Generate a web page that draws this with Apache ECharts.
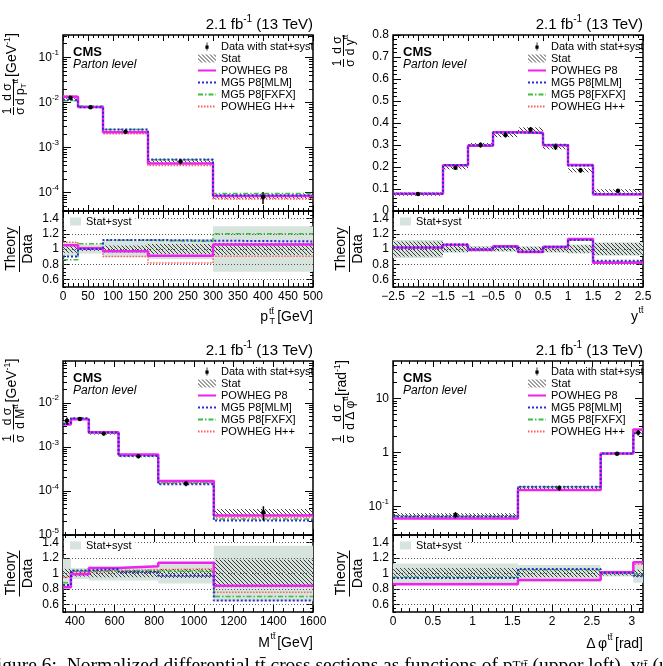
<!DOCTYPE html>
<html>
<head>
<meta charset="utf-8">
<script src="https://cdn.jsdelivr.net/npm/echarts@6.0.0/dist/echarts.min.js"></script>
<style>html,body{margin:0;padding:0;background:#fff;overflow:hidden}#chart{width:663px;height:666px}</style>
</head>
<body>
<div id="chart"></div>
<script>
// ================= DATA =================
// --- pT(tt) panel ---
const ptEdges = [0, 30, 80, 170, 300, 500];
const ptData = [0.0127, 0.0078, 0.00225, 0.00049, 0.000080];
const ptStat = [0.05, 0.025, 0.045, 0.065, 0.08];
const ptTotal = [0.09, 0.06, 0.11, 0.13, 0.30];
const ptRatioP8 = [1.05, 1.01, 0.97, 0.91, 1.06];
const ptRatioMLM = [0.90, 1.00, 1.12, 1.11, 1.10];
const ptRatioFXFX = [0.86, 1.07, 1.115, 1.10, 1.20];
const ptRatioHpp = [1.09, 1.02, 0.90, 0.815, 0.905];
// --- y(tt) panel ---
const yEdges = [-2.5, -1.5, -1, -0.5, 0, 0.5, 1, 1.5, 2.5];
const yData = [0.077, 0.197, 0.300, 0.346, 0.369, 0.292, 0.185, 0.092];
const yStat = [0.10, 0.04, 0.03, 0.03, 0.03, 0.04, 0.05, 0.08];
const yTotal = [0.12, 0.05, 0.04, 0.035, 0.035, 0.05, 0.06, 0.09];
const yRatioP8 = [1.02, 1.055, 0.99, 1.035, 0.96, 1.025, 1.13, 0.82];
const yRatioMLM = [1.02, 1.06, 0.995, 1.03, 0.965, 1.03, 1.12, 0.845];
const yRatioFXFX = [1.02, 1.05, 0.99, 1.03, 0.965, 1.025, 1.12, 0.83];
const yRatioHpp = [1.015, 1.05, 0.995, 1.03, 0.97, 1.02, 1.12, 0.83];
// --- M(tt) panel ---
const mEdges = [340, 380, 470, 620, 820, 1100, 1600];
const mData = [0.0039, 0.0043, 0.0020, 0.00061, 0.000147, 0.000033];
const mStat = [0.06, 0.04, 0.05, 0.05, 0.06, 0.18];
const mTotal = [0.19, 0.07, 0.09, 0.09, 0.13, 0.36];
const mRatioP8 = [0.82, 0.99, 1.07, 1.095, 1.14, 0.84];
const mRatioMLM = [0.85, 1.04, 1.06, 1.02, 0.97, 0.65];
const mRatioFXFX = [0.88, 1.03, 1.04, 1.03, 1.03, 0.70];
const mRatioHpp = [0.95, 1.02, 1.03, 1.05, 1.06, 0.755];
// --- delta phi(tt) panel ---
const dpEdges = [0, 1.57, 2.61, 3.02, 3.1416];
const dpData = [0.0703, 0.221, 0.945, 2.33];
const dpStat = [0.07, 0.05, 0.025, 0.05];
const dpTotal = [0.13, 0.11, 0.04, 0.12];
const dpRatioP8 = [0.86, 0.915, 1.015, 1.145];
const dpRatioMLM = [0.94, 1.06, 1.01, 0.97];
const dpRatioFXFX = [0.95, 1.05, 1.00, 0.98];
const dpRatioHpp = [0.87, 0.92, 1.01, 1.12];

// --- axis ticks / ranges ---
const ptTicks = [0, 50, 100, 150, 200, 250, 300, 350, 400, 450, 500];
const yTicks = [-2.5, -2, -1.5, -1, -0.5, 0, 0.5, 1, 1.5, 2, 2.5];
const mTicks = [400, 600, 800, 1000, 1200, 1400, 1600];
const dpTicks = [0, 0.5, 1, 1.5, 2, 2.5, 3];
const ratioTicks = [0.6, 0.8, 1, 1.2, 1.4];
const ptMainTicks = [1e-4, 1e-3, 1e-2, 1e-1];
const yMainTicks = [0, 0.1, 0.2, 0.3, 0.4, 0.5, 0.6, 0.7, 0.8];
const mMainTicks = [1e-5, 1e-4, 1e-3, 1e-2];
const dpMainTicks = [0.1, 1, 10];
const ptMainRange = [3.93e-5, 0.312];
const yMainRange = [0, 0.8];
const mMainRange = [1e-5, 0.0887];
const dpMainRange = [0.030, 48.8];
const ratioRange = [0.5, 1.5];

// ================= helpers =================
const FONT = '"Liberation Sans", Arial, Helvetica, sans-serif';
const SERIF = '"Liberation Serif", "Times New Roman", serif';
function range(a, b, step) { const out = []; const n = Math.round((b - a) / step); for (let i = 0; i <= n; i++) out.push(+(a + i * step).toFixed(6)); return out; }
function logMinors(min, max) { const out = []; for (let e = Math.floor(Math.log10(min)); e <= Math.ceil(Math.log10(max)); e++) for (let k = 2; k <= 9; k++) { const v = k * Math.pow(10, e); if (v >= min && v <= max) out.push(v); } return out; }
const logFmt = v => { const e = Math.round(Math.log10(v)); return '{b|10}{s|' + (e < 0 ? '-' : '') + Math.abs(e) + '}'; };
const dpFmt = v => { const e = Math.round(Math.log10(v)); if (e === 0) return '{b|1}'; if (e === 1) return '{b|10}'; return logFmt(v); };
const numFmt = v => '{b|' + (v < 0 ? '\u2212' + Math.abs(v) : String(v)) + '}';
const LABEL_RICH = {
  b: { fontSize: 12, color: '#000', fontFamily: FONT },
  s: { fontSize: 8, color: '#000', fontFamily: FONT, padding: [0, 0, 9, 0] }
};

function makeHatch() {
  const s = 4, c = document.createElement('canvas'); c.width = s; c.height = s;
  const g = c.getContext('2d'); g.strokeStyle = '#3a3a3a'; g.lineWidth = 1;
  g.beginPath(); g.moveTo(0, 0); g.lineTo(s, s); g.moveTo(-1, s - 1); g.lineTo(1, s + 1); g.moveTo(s - 1, -1); g.lineTo(s + 1, 1); g.stroke();
  return c;
}
const HATCH = { image: makeHatch(), repeat: 'repeat' };
const BAND = '#d6e4dd';

const MODELS = [
  { name: 'POWHEG P8', color: '#ee22ee', width: 2.5, type: 'solid', z: 6 },
  { name: 'MG5 P8[MLM]', color: '#2b2bd6', width: 2, type: [2, 2], z: 7 },
  { name: 'MG5 P8[FXFX]', color: '#3fbf3f', width: 1.5, type: [5, 2, 1.5, 2], z: 5 },
  { name: 'POWHEG H++', color: '#ff5a5a', width: 1.5, type: [1.5, 1.5], z: 4 }
];

const grids = [], xAxes = [], yAxes = [], series = [];

function mkAxis(spec, gi, pos, vals, len, withLabel) {
  const a = {
    type: spec.type || 'value', gridIndex: gi, position: pos, min: spec.min, max: spec.max,
    axisLine: { show: false, onZero: false }, splitLine: { show: false }, splitArea: { show: false },
    axisTick: { show: true, inside: true, length: len, customValues: vals, lineStyle: { color: '#000', width: 1 } },
    axisLabel: withLabel ? { show: true, customValues: vals, formatter: spec.fmt, rich: LABEL_RICH, margin: 4, color: '#000', fontFamily: FONT, fontSize: 12, hideOverlap: false, showMinLabel: true, showMaxLabel: true } : { show: false },
    axisPointer: { show: false }, silent: true
  };
  if (spec.type === 'log') a.logBase = 10;
  return a;
}
function addGrid(rect, xs, ys, xLabels, xlen, ylen) {
  const gi = grids.length;
  grids.push({ left: rect[0], top: rect[1], width: rect[2], height: rect[3], show: true, borderColor: '#000', borderWidth: 1.5, backgroundColor: 'rgba(0,0,0,0)' });
  const xi = xAxes.length, yi = yAxes.length;
  xAxes.push(mkAxis(xs, gi, 'bottom', xs.majors, xlen[0], xLabels));
  xAxes.push(mkAxis(xs, gi, 'bottom', xs.minors, xlen[1], false));
  xAxes.push(mkAxis(xs, gi, 'top', xs.majors, xlen[0], false));
  xAxes.push(mkAxis(xs, gi, 'top', xs.minors, xlen[1], false));
  yAxes.push(mkAxis(ys, gi, 'left', ys.majors, ylen[0], true));
  yAxes.push(mkAxis(ys, gi, 'left', ys.minors, ylen[1], false));
  yAxes.push(mkAxis(ys, gi, 'right', ys.majors, ylen[0], false));
  yAxes.push(mkAxis(ys, gi, 'right', ys.minors, ylen[1], false));
  return { xi, yi };
}
function bandSeries(name, edges, center, rel, fill, ax, z) {
  return {
    type: 'custom', name, xAxisIndex: ax.xi, yAxisIndex: ax.yi, z, silent: true,
    itemStyle: { color: fill },
    encode: { x: [0, 1], y: [2, 3] },
    data: center.map((c, i) => [edges[i], edges[i + 1], c * (1 - rel[i]), c * (1 + rel[i])]),
    renderItem(params, api) {
      const p1 = api.coord([api.value(0), api.value(3)]);
      const p2 = api.coord([api.value(1), api.value(2)]);
      return { type: 'rect', shape: { x: p1[0], y: p1[1], width: p2[0] - p1[0], height: p2[1] - p1[1] }, style: { fill } };
    }
  };
}
function stepLine(md, edges, vals, ax) {
  const pts = vals.map((v, i) => [edges[i], v]);
  pts.push([edges[edges.length - 1], vals[vals.length - 1]]);
  return {
    type: 'line', name: md.name, xAxisIndex: ax.xi, yAxisIndex: ax.yi, z: md.z, silent: true,
    step: 'end', symbol: 'none', data: pts,
    lineStyle: { color: md.color, width: md.width, type: md.type }, itemStyle: { color: md.color }
  };
}
function dataSeries(edges, vals, tot, ax) {
  return {
    type: 'custom', name: 'Data with stat+syst', xAxisIndex: ax.xi, yAxisIndex: ax.yi, z: 10, silent: true,
    itemStyle: { color: '#000' },
    encode: { x: 0, y: [1, 2, 3] },
    data: vals.map((v, i) => [(edges[i] + edges[i + 1]) / 2, v, v * (1 - tot[i]), v * (1 + tot[i])]),
    renderItem(params, api) {
      const c = api.coord([api.value(0), api.value(1)]);
      const lo = api.coord([api.value(0), api.value(2)]);
      const hi = api.coord([api.value(0), api.value(3)]);
      return { type: 'group', children: [
        { type: 'line', shape: { x1: c[0], y1: lo[1], x2: c[0], y2: hi[1] }, style: { stroke: '#000', lineWidth: 1.5 } },
        { type: 'circle', shape: { cx: c[0], cy: c[1], r: 2.2 }, style: { fill: '#000' } }
      ] };
    }
  };
}

const panels = [
  { dx: 0, dy: 0, main: [63, 35, 250, 176], ratio: [63, 211, 250, 76], edges: ptEdges, data: ptData, stat: ptStat, tot: ptTotal,
    ratios: [ptRatioP8, ptRatioMLM, ptRatioFXFX, ptRatioHpp],
    x: { min: 0, max: 500, majors: ptTicks, minors: range(0, 500, 10), fmt: numFmt },
    ymain: { type: 'log', min: ptMainRange[0], max: ptMainRange[1], majors: ptMainTicks, minors: logMinors(ptMainRange[0], ptMainRange[1]), fmt: logFmt } },
  { dx: 330, dy: 0, main: [393, 35, 250, 176], ratio: [393, 211, 250, 76], edges: yEdges, data: yData, stat: yStat, tot: yTotal,
    ratios: [yRatioP8, yRatioMLM, yRatioFXFX, yRatioHpp],
    x: { min: -2.5, max: 2.5, majors: yTicks, minors: range(-2.5, 2.5, 0.1), fmt: numFmt },
    ymain: { type: 'value', min: yMainRange[0], max: yMainRange[1], majors: yMainTicks, minors: range(0, 0.8, 0.02), fmt: numFmt } },
  { dx: 0, dy: 326, main: [63, 361, 250, 174], ratio: [63, 535, 250, 77], edges: mEdges, data: mData, stat: mStat, tot: mTotal,
    ratios: [mRatioP8, mRatioMLM, mRatioFXFX, mRatioHpp],
    x: { min: 340, max: 1600, majors: mTicks, minors: range(350, 1600, 50), fmt: numFmt },
    ymain: { type: 'log', min: mMainRange[0], max: mMainRange[1], majors: mMainTicks, minors: logMinors(mMainRange[0], mMainRange[1]), fmt: logFmt } },
  { dx: 330, dy: 326, main: [393, 361, 250, 174], ratio: [393, 535, 250, 77], edges: dpEdges, data: dpData, stat: dpStat, tot: dpTotal,
    ratios: [dpRatioP8, dpRatioMLM, dpRatioFXFX, dpRatioHpp],
    x: { min: 0, max: Math.PI, majors: dpTicks, minors: range(0, 3.1, 0.1), fmt: numFmt },
    ymain: { type: 'log', min: dpMainRange[0], max: dpMainRange[1], majors: dpMainTicks, minors: logMinors(dpMainRange[0], dpMainRange[1]), fmt: dpFmt } }
];
const yRatioSpec = { type: 'value', min: ratioRange[0], max: ratioRange[1], majors: ratioTicks, minors: range(0.5, 1.5, 0.05), fmt: numFmt };

const legends = [];
const dataIcon = 'path://M4.4,0h1.2v12h-1.2z M2.6,4.6h4.8v4.8h-4.8z';

panels.forEach(P => {
  const m = addGrid(P.main, P.x, P.ymain, false, [6, 3], [8, 4]);
  const r = addGrid(P.ratio, P.x, yRatioSpec, true, [7, 4], [6, 3]);
  const ones = P.data.map(() => 1);
  // ratio pad
  series.push(bandSeries('Stat+syst', P.edges, ones, P.tot, BAND, r, 1));
  const st = bandSeries('Stat', P.edges, ones, P.stat, HATCH, r, 2);
  st.markLine = { silent: true, symbol: ['none', 'none'], label: { show: false }, animation: false,
    lineStyle: { color: '#555', type: [1, 2], width: 1 }, data: ratioTicks.map(v => ({ yAxis: v })) };
  series.push(st);
  MODELS.forEach((md, k) => series.push(stepLine(md, P.edges, P.ratios[k], r)));
  // main pad
  series.push(bandSeries('Stat', P.edges, P.data, P.stat, HATCH, m, 2));
  MODELS.forEach((md, k) => series.push(stepLine(md, P.edges, P.data.map((d, i) => d * P.ratios[k][i]), m)));
  series.push(dataSeries(P.edges, P.data, P.tot, m));
  // legends
  legends.push({
    left: 197 + P.dx, top: 41 + (P.dy ? 325 : 0), orient: 'vertical', itemWidth: 18, itemHeight: 8, itemGap: 1, padding: 0, z: 20,
    selectedMode: false, textStyle: { fontSize: 11, fontFamily: FONT, color: '#000', lineHeight: 11 },
    data: [{ name: 'Data with stat+syst', icon: dataIcon }, { name: 'Stat', icon: 'rect' }]
      .concat(MODELS.map(md => ({ name: md.name, itemStyle: { opacity: 0, color: 'rgba(0,0,0,0)', borderWidth: 0 } })))
  });
  legends.push({
    left: 64 + P.dx, top: (P.dy ? 538 : 214), orient: 'vertical', itemWidth: 11, itemHeight: 8, padding: [2, 4, 2, 6], z: 20,
    backgroundColor: '#fff', selectedMode: false, textStyle: { fontSize: 11, fontFamily: FONT, color: '#000', lineHeight: 11 },
    data: [{ name: 'Stat+syst', icon: 'rect' }]
  });
});

// ================= text graphics =================
const TR = {
  a: { fontSize: 12, fontFamily: FONT, fill: '#000' },
  b: { fontSize: 14, fontFamily: FONT, fill: '#000' },
  bs: { fontSize: 9, fontFamily: FONT, fill: '#000', padding: [0, 0, 10, 0] },
  sup: { fontSize: 8, fontFamily: FONT, fill: '#000', padding: [0, 0, 9, 0] },
  sub: { fontSize: 8, fontFamily: FONT, fill: '#000', padding: [7, 0, 0, 0] },
  L: { fontSize: 15, fontFamily: FONT, fill: '#000' },
  Ls: { fontSize: 10, fontFamily: FONT, fill: '#000', padding: [0, 0, 11, 0] },
  c: { fontSize: 19.5, fontFamily: SERIF, fill: '#000', lineHeight: 24 },
  cs: { fontSize: 13, fontFamily: SERIF, fill: '#000', lineHeight: 24 }
};
function T(x, y, text, o) {
  return { type: 'text', x, y, silent: true, style: Object.assign({ text, fill: '#000', fontFamily: FONT, fontSize: 12, align: 'left', verticalAlign: 'middle', rich: TR }, o || {}) };
}
function C(x, y, text, o) { return T(x, y, text, Object.assign({ align: 'center' }, o || {})); }
function bar(l1, l2) { return { type: 'line', silent: true, shape: { x1: l1, y1: 0, x2: l2, y2: 0 }, style: { stroke: '#000', lineWidth: 1 } }; }
function rot(x, y, children) { return { type: 'group', x, y, rotation: Math.PI / 2, silent: true, children }; }

const graphics = [];
panels.forEach(P => {
  const dx = P.dx, dy = P.dy;
  graphics.push(T(313 + dx, 25 + dy, '{L|2.1 fb}{Ls|-1}{L| (13 TeV)}', { align: 'right' }));
  graphics.push(T(73 + dx, 52 + dy, 'CMS', { fontSize: 13, fontWeight: 'bold' }));
  graphics.push(T(73 + dx, 64.5 + dy, 'Parton level', { fontSize: 12, fontStyle: 'italic' }));
  graphics.push(rot(19.5 + dx, (P.ratio[1] + P.ratio[3] / 2), [
    C(0, -8, 'Theory', { fontSize: 14 }), C(0, 8.5, 'Data', { fontSize: 14 }), bar(-23, 23)
  ]));
});
// main y titles
graphics.push(rot(13.5, 34, [
  C(-21, -1, '{b|[GeV}{bs|-1}{b|]}'),
  C(-58, -6, '{a|d \u03c3}'), C(-58, 7, '{a|d p}{sub|T}{sup|tt\u0304}'), bar(-45, -72),
  C(-77, -6, '{a|1}'), C(-77, 7, '{a|\u03c3}'), bar(-73, -81)
]));
graphics.push(rot(343.5, 34, [
  C(-11, -6, '{a|d \u03c3}'), C(-11, 7, '{a|d y}{sup|tt\u0304}'), bar(-1, -22),
  C(-29, -6, '{a|1}'), C(-29, 7, '{a|\u03c3}'), bar(-25, -33)
]));
graphics.push(rot(13.5, 360.5, [
  C(-20, -1, '{b|[GeV}{bs|-1}{b|]}'),
  C(-56, -6, '{a|d \u03c3}'), C(-56, 7, '{a|d M}{sup|tt\u0304}'), bar(-44, -69),
  C(-78, -6, '{a|1}'), C(-78, 7, '{a|\u03c3}'), bar(-74, -82)
]));
graphics.push(rot(343.5, 361, [
  C(-17, -1, '{b|[rad}{bs|-1}{b|]}'),
  C(-52, -6, '{a|d \u03c3}'), C(-52, 7, '{a|d \u0394 \u03c6}{sup|tt\u0304}'), bar(-36, -68),
  C(-78, -6, '{a|1}'), C(-78, 7, '{a|\u03c3}'), bar(-74, -82)
]));
// x titles
graphics.push(T(313, 317, '[GeV]', { fontSize: 14, align: 'right' }), T(268, 317, 'p', { fontSize: 14, align: 'right' }),
  T(269, 312, 'tt\u0304', { fontSize: 9 }), T(269.5, 321.5, 'T', { fontSize: 9 }));
graphics.push(T(638, 317, 'y', { fontSize: 14, align: 'right' }), T(638.5, 311, 'tt\u0304', { fontSize: 9 }));
graphics.push(T(313, 643, '[GeV]', { fontSize: 14, align: 'right' }), T(270, 643, 'M', { fontSize: 14, align: 'right' }),
  T(270.5, 637, 'tt\u0304', { fontSize: 9 }));
graphics.push(T(643, 644, '[rad]', { fontSize: 14, align: 'right' }), T(607, 644, '\u03c6', { fontSize: 14, align: 'right' }),
  T(595.5, 644, '\u0394', { fontSize: 14, align: 'right' }), T(607.5, 638, 'tt\u0304', { fontSize: 9 }));
// caption (cut at bottom edge)
graphics.push(T(-14, 654, '{c|Figure 6:  Normalized differential t}{c|t\u0304 cross sections as functions of p}{cs|T}{cs|tt\u0304}{c| (upper left), y}{cs|tt\u0304}{c| (upper right), M}{cs|tt\u0304}{c| (lower left)}', { verticalAlign: 'top' }));

const chart = echarts.init(document.getElementById('chart'), null, { renderer: 'canvas', width: 663, height: 666 });
chart.setOption({
  animation: false,
  backgroundColor: '#fff',
  textStyle: { fontFamily: FONT },
  grid: grids, xAxis: xAxes, yAxis: yAxes, series, legend: legends,
  graphic: { elements: graphics }
});
</script>
</body>
</html>
